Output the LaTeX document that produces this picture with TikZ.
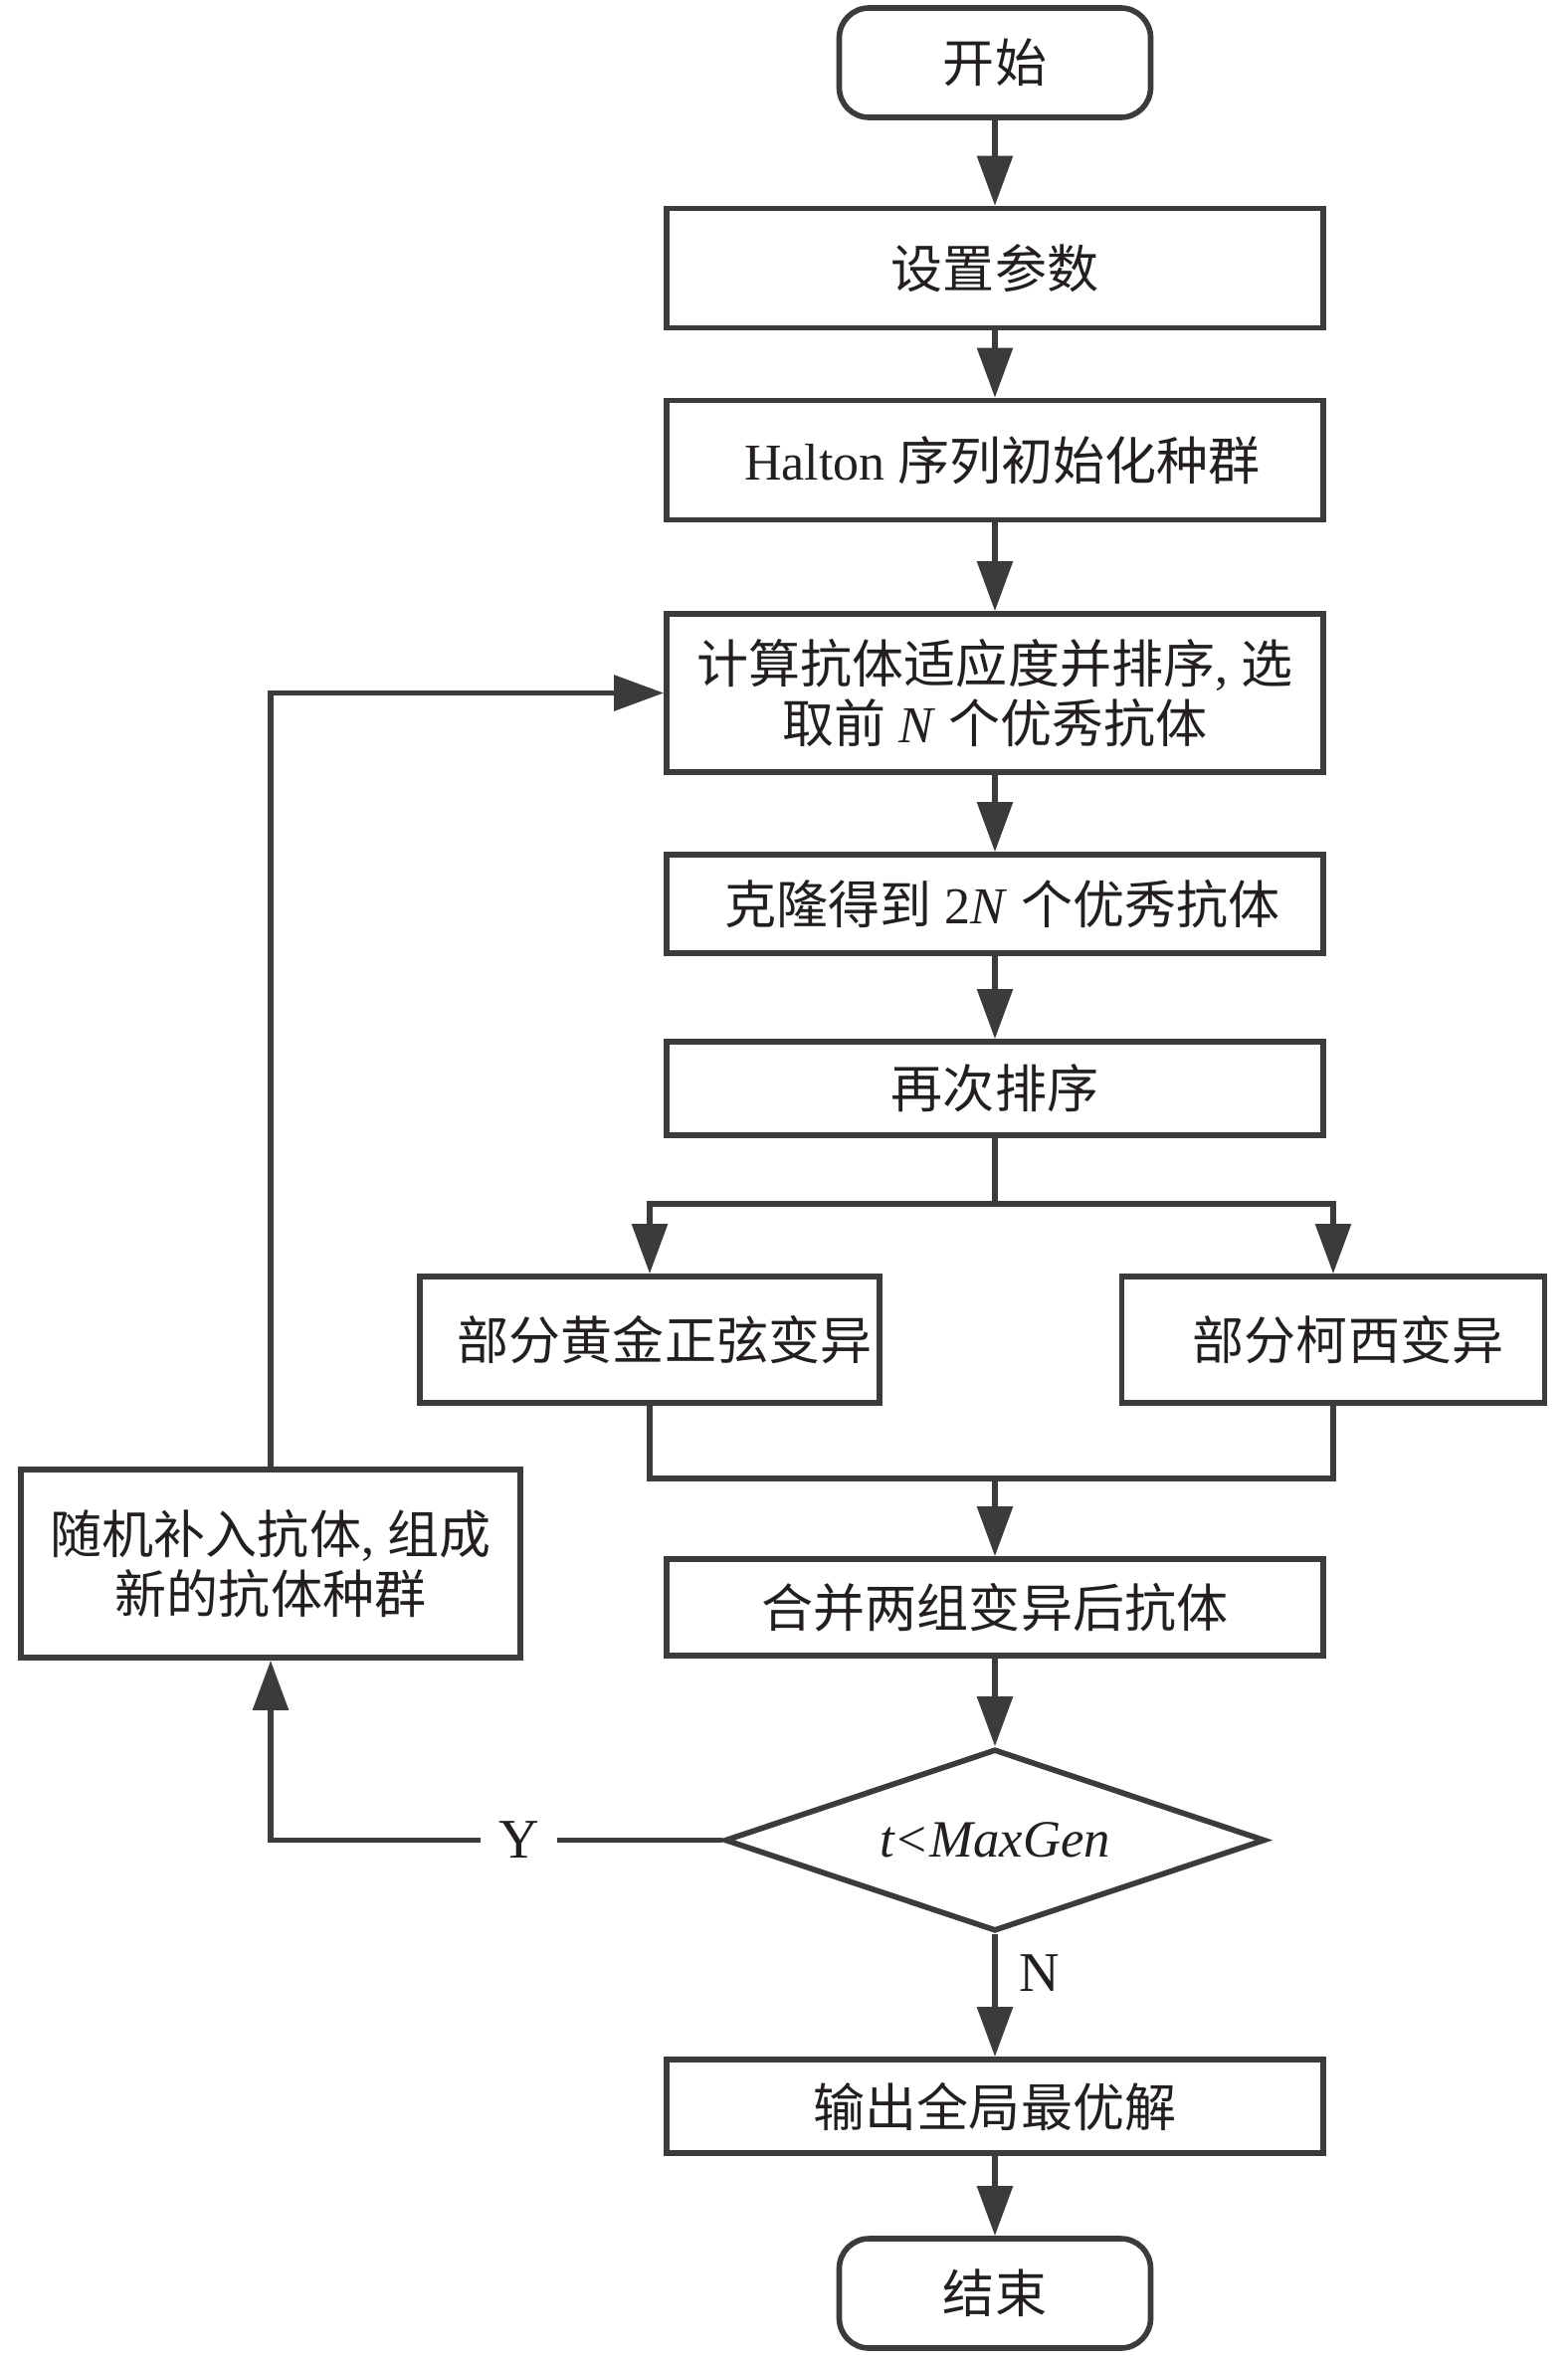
\documentclass[tikz,border=0pt]{standalone}
\usepackage{fontspec}
\setmainfont{Liberation Serif}
\newfontfamily\zhfont{Noto Sans CJK SC}
\newcommand{\zh}[1]{{\zhfont #1}}
\usepackage{tikz}
\usetikzlibrary{shapes.geometric,arrows.meta,positioning}
\definecolor{linegray}{HTML}{3C3A3B}
\definecolor{textgray}{HTML}{231F20}
\tikzset
{
    procbox/.style   = {rectangle, draw=linegray, text=textgray, align=center, minimum width=6.6cm, minimum height=1.2cm, inner sep=2pt, font=\fontsize{14.8}{17.2}\selectfont},
    termbox/.style   = {procbox, rounded corners=0.3cm, minimum width=3.13cm, minimum height=1.1cm},
    decbox/.style    = {diamond, draw=linegray, text=textgray, aspect=2.97, minimum width=5.43cm, minimum height=1.83cm, inner sep=0pt, font=\fontsize{15}{18}\selectfont},
    flowlabel/.style = {text=textgray, font=\fontsize{16}{19}\selectfont}
}

\begin{document}
\begin{tikzpicture}[->,>={Triangle[width=3.5mm,length=5mm]}, line width=1.6pt, color=linegray]
    \useasboundingbox (0,0) rectangle (15.75,-23.72);

    \node [termbox] (start) at (10,-0.63) {\zh{开始}};
    \node [procbox] (setup) at (10,-2.695) {\zh{设置参数}};
    \node [procbox] (init) at (10,-4.625) {\hspace*{0.15cm}Halton \zh{序列初始化种群}};
    \node [procbox, minimum height=1.59cm] (fitness) at (10,-6.965) {\zh{计算抗体适应度并排序}, \zh{选}\\\zh{取前} \textit{N} \zh{个优秀抗体}};
    \node [procbox, minimum height=0.99cm] (clone) at (10,-9.085) {\hspace*{0.15cm}\zh{克隆得到} 2\textit{N} \zh{个优秀抗体}};
    \node [procbox, minimum height=0.94cm] (resort) at (10,-10.94) {\zh{再次排序}};
    \node [procbox, minimum width=4.62cm, minimum height=1.27cm] (golden) at (6.53,-13.465) {\hspace*{0.3cm}\zh{部分黄金正弦变异}};
    \node [procbox, minimum width=4.25cm, minimum height=1.27cm] (cauchy) at (13.40,-13.465) {\hspace*{0.3cm}\zh{部分柯西变异}};
    \node [procbox, minimum height=0.97cm] (merge) at (10,-16.155) {\zh{合并两组变异后抗体}};
    \node [decbox] (check) at (10,-18.495) {\textit{t<MaxGen}};
    \node [procbox, minimum height=0.94cm] (output) at (10,-21.17) {\zh{输出全局最优解}};
    \node [termbox] (stop) at (10,-23.05) {\zh{结束}};
    \node [procbox, minimum width=5.02cm, minimum height=1.89cm] (refill) at (2.72,-15.715) {\zh{随机补入抗体}, \zh{组成}\\\zh{新的抗体种群}};

    \draw (start) -- (setup);
    \draw (setup) -- (init);
    \draw (init) -- (fitness);
    \draw (fitness) -- (clone);
    \draw (clone) -- (resort);
    \draw (resort.south) -- ++(0,-0.66) -| (golden.north);
    \draw (resort.south) -- ++(0,-0.66) -| (cauchy.north);
    \draw [-] (golden.south) -- ++(0,-0.73) -| (cauchy.south);
    \coordinate (join) at (10,-14.83);
    \draw (join) -- (merge);
    \draw (merge) -- (check);
    \draw (check) -- node [flowlabel, right, pos=0.32, xshift=0.1cm] {N} (output);
    \draw (output) -- (stop);
    \draw (check.west) -| node [flowlabel, fill=white, pos=0.225, inner xsep=0.18cm] {Y} (refill.south);
    \draw (refill.north) |- (fitness.west);
\end{tikzpicture}
\end{document}
